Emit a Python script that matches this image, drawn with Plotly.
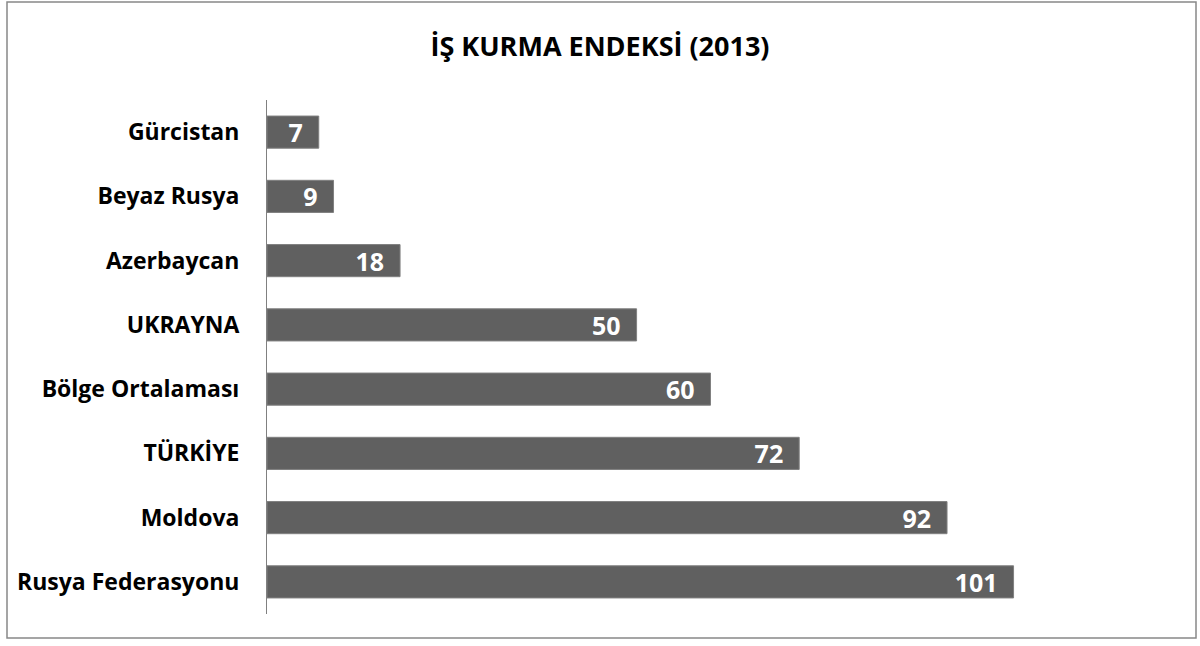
import plotly.graph_objects as go

categories = ["Gürcistan", "Beyaz Rusya", "Azerbaycan", "UKRAYNA",
              "Bölge Ortalaması", "TÜRKİYE", "Moldova", "Rusya Federasyonu"]
values = [7, 9, 18, 50, 60, 72, 92, 101]

W, H = 1200, 646
L, R, T, B = 267, 46, 100, 32
pw = W - L - R
ph = H - T - B
FONT = "Open Sans"

def px(x):
    return (x - L) / pw

def py(y):
    return 1 - (y - T) / ph

fig = go.Figure(go.Bar(
    y=categories, x=values, orientation="h",
    marker=dict(color="#606060", line=dict(color="#808080", width=1)),
    text=[str(v) for v in values],
    texttemplate="<b>%{text}</b>\u00a0\u00a0",
    textposition="inside", insidetextanchor="end",
    textangle=0,
    constraintext="none",
    insidetextfont=dict(color="white", size=25, family=FONT),
    hoverinfo="skip",
))

fig.update_layout(
    width=W, height=H,
    margin=dict(l=L, r=R, t=T, b=B),
    paper_bgcolor="white", plot_bgcolor="white",
    bargap=0.5,
    showlegend=False,
    title=dict(text="<b>İŞ KURMA ENDEKSİ (2013)</b>", x=0.5, xanchor="center",
               y=1 - 47 / H, yanchor="middle",
               font=dict(family=FONT, size=27, color="black")),
    xaxis=dict(range=[0, 120], visible=False, showgrid=False),
    yaxis=dict(autorange="reversed", showgrid=False, showline=True,
               linecolor="#808080", linewidth=1, ticks="",
               ticklabelstandoff=22,
               tickfont=dict(family=FONT, size=23, color="black"),
               tickprefix="<b>", ticksuffix="</b>"),
    shapes=[dict(type="rect", xref="paper", yref="paper",
                 x0=px(7), x1=px(1196), y0=py(2), y1=py(638),
                 line=dict(color="#888888", width=1.5), fillcolor="rgba(0,0,0,0)",
                 layer="below")],
)

fig.write_html("out.html", config={"displayModeBar": False},
               post_script="document.body.style.margin='0';document.body.style.overflow='hidden';")
